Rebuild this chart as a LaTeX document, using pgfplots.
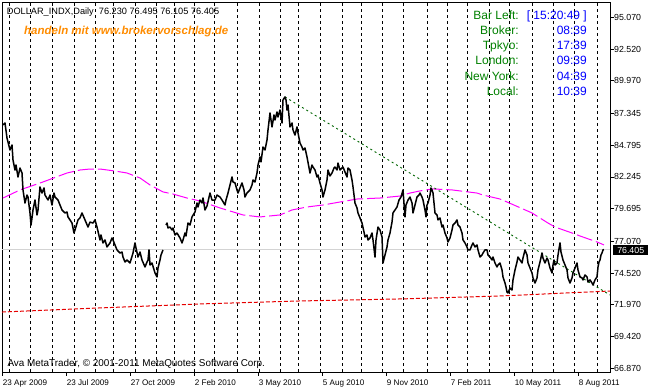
\documentclass[border=0pt]{standalone}
\usepackage{fontspec}
\setmainfont{Liberation Sans}
\usepackage{pgfplots}
\pgfplotsset{compat=1.18}
\definecolor{mtgreen}{RGB}{0,128,0}
\definecolor{mtorange}{RGB}{255,140,0}
\definecolor{mtmag}{RGB}{255,0,255}
\definecolor{mtred}{RGB}{230,0,0}
\definecolor{mttrend}{RGB}{0,100,0}
\definecolor{mtgray}{RGB}{211,211,211}
\definecolor{mtblue}{RGB}{0,0,255}
\begin{document}
\begin{tikzpicture}
\begin{axis}[
  at={(2pt,18pt)}, anchor=south west,
  scale only axis, width=608pt, height=370pt,
  xmin=2, xmax=610, ymin=66.573, ymax=96.299,
  axis line style={line width=0.9pt},
  tick align=outside, major tick length=4pt,
  tick style={black, line width=0.8pt},
  xtick pos=left, ytick pos=right,
  xticklabel pos=left, yticklabel pos=right,
  /pgf/number format/assume math mode=true,
  xtick={2.7,66.7,130.7,194.7,258.7,322.7,386.7,450.7,514.7,578.7},
  xticklabels={23 Apr 2009,23 Jul 2009,27 Oct 2009,2 Feb 2010,3 May 2010,5 Aug 2010,9 Nov 2010,7 Feb 2011,10 May 2011,8 Aug 2011},
  xticklabel style={anchor=north west, inner xsep=0pt, font=\fontsize{8.1}{9}\selectfont},
  ytick={95.07,92.52,89.97,87.345,84.795,82.245,79.695,77.07,74.52,71.97,69.42,66.87},
  yticklabels={95.070,92.520,89.970,87.345,84.795,82.245,79.695,77.070,74.520,71.970,69.420,66.870},
  yticklabel style={anchor=west, inner xsep=0pt, font=\fontsize{8.8}{9}\selectfont},
  extra x ticks={9,30,52,74,95,113,135,156,174,194,214,237,259,280,298,320,342,361,382,403,427,447,467,489,509,532,553,574,597},
  extra x tick labels={},
  extra x tick style={grid=major, major tick length=0pt},
  major grid style={black, line width=0.8pt, dash pattern=on 3pt off 3pt},
]
% current price line
\addplot[mtgray, line width=0.9pt] coordinates {(2,76.405)(610,76.405)};
% long MA (red dotted)
\addplot[mtred, line width=1pt, dash pattern=on 4pt off 2pt] coordinates {
(2,71.39)(100,71.72)(200,72.04)(300,72.28)(400,72.44)(500,72.68)(610,73.08)};
% MA (magenta)
\addplot[mtmag, line width=1pt, dash pattern=on 16pt off 4pt] coordinates {
(3,80.55)(20,81.20)(43,81.84)(67,82.56)(80,82.80)(90,82.88)(100,82.88)(115,82.72)(127,82.56)(140,82.16)(150,81.60)(163,81.04)(173,80.87)(187,80.55)(200,80.31)(220,79.75)(243,79.19)(260,79.03)(280,79.19)(292,79.59)(307,79.83)(323,79.99)(340,80.23)(357,80.47)(380,80.55)(400,80.71)(410,80.95)(420,81.12)(433,81.28)(452,81.20)(460,81.12)(477,80.95)(483,80.79)(500,80.47)(507,80.23)(523,79.67)(532,79.35)(548,78.54)(555,78.22)(572,77.74)(580,77.50)(597,77.02)(604,76.78)};
% trend line
\addplot[mttrend, line width=0.9pt, dash pattern=on 2pt off 3pt] coordinates {(285,88.67)(610,72.76)};
% price (close) series
\addplot[black, line width=1.5pt, line join=round] coordinates {
(3,86.42)(5,86.58)(7,85.37)(10,84.41)(12,84.81)(13,83.61)(15,82.80)(16,83.20)(18,82.24)(20,82.96)(22,82.56)(23,81.20)(25,80.15)(27,80.79)(28,80.63)(30,79.35)(31,78.38)(32,78.95)(33,79.59)(35,80.39)(37,79.19)(38,79.59)(40,81.44)(42,80.95)(44,81.36)(45,80.79)(48,80.39)(50,80.79)(52,79.99)(54,80.95)(55,80.63)(58,80.39)(60,79.99)(62,79.59)(65,79.35)(67,79.43)(68,79.03)(70,78.79)(72,78.54)(74,77.74)(75,77.98)(78,78.79)(80,78.95)(82,79.35)(85,78.79)(88,78.22)(90,78.62)(93,78.54)(95,78.79)(97,78.22)(100,77.18)(101,77.58)(103,76.94)(105,77.18)(107,76.62)(110,76.94)(112,77.34)(113,77.18)(115,76.78)(117,76.38)(120,76.13)(122,76.21)(123,75.81)(125,75.41)(127,75.57)(130,75.33)(133,76.13)(135,76.94)(136,76.54)(138,75.81)(140,76.21)(142,75.57)(145,75.01)(147,75.41)(148,75.57)(149,76.38)(150,75.17)(152,75.33)(155,74.53)(157,74.21)(158,74.93)(160,75.57)(161,75.97)(163,76.38)};
\addplot[black, line width=1.5pt, line join=round] coordinates {
(166,78.38)(167,78.54)(168,78.14)(170,78.22)(172,77.98)(173,78.14)(175,77.58)(177,77.74)(180,77.34)(182,76.94)(183,77.18)(185,77.74)(186,77.50)(188,78.54)(190,78.38)(192,79.03)(195,79.43)(197,80.15)(198,79.83)(200,80.39)(202,80.15)(203,80.55)(205,79.59)(207,79.91)(210,80.95)(212,80.39)(215,80.39)(217,80.79)(220,80.63)(222,80.39)(225,79.99)(226,80.39)(228,80.95)(230,81.60)(232,82.24)(233,81.84)(235,81.76)(237,81.20)(238,80.95)(240,81.36)(242,81.76)(244,81.20)(245,80.63)(247,80.95)(250,81.20)(252,81.60)(253,82.00)(255,81.84)(257,82.56)(258,83.20)(260,83.85)(261,83.45)(263,84.65)(265,84.41)(267,85.21)(268,86.02)(270,87.38)(271,86.82)(272,86.26)(274,87.22)(275,86.82)(277,87.46)(278,87.06)(280,87.62)(282,86.58)(283,88.43)(285,88.67)(286,88.43)(287,87.62)(288,88.02)(290,86.26)(292,86.58)(293,86.02)(295,85.61)(297,86.26)(298,85.78)(300,84.97)(302,84.65)(303,84.41)(305,84.57)(307,83.85)(310,82.56)(312,83.20)(313,83.04)(315,82.80)(317,82.24)(318,82.40)(320,81.76)(322,81.20)(323,80.63)(325,81.20)(327,82.00)(328,82.80)(330,82.32)(332,82.56)(334,82.96)(335,83.04)(337,82.80)(338,83.36)(340,82.80)(343,83.04)(345,82.64)(347,82.24)(348,82.96)(350,82.80)(352,82.00)(353,81.44)(355,80.15)(357,79.75)(358,79.35)(360,78.95)(362,78.54)(364,77.82)(365,77.42)(367,77.58)(368,77.18)(370,77.34)(372,77.74)(373,77.18)(375,75.81)(376,77.18)(378,78.22)(380,77.98)(382,77.42)(383,75.33)(385,75.97)(387,76.62)(388,77.18)(390,77.74)(392,78.62)(393,79.35)(395,79.59)(397,79.83)(399,80.39)(401,80.63)(403,81.20)(405,79.03)(406,79.99)(408,80.39)(410,80.63)(412,80.15)(413,79.35)(415,79.99)(417,80.63)(419,80.79)(420,80.95)(422,80.63)(423,80.39)(425,79.59)(426,79.03)(427,79.99)(428,80.15)(430,80.79)(431,81.36)(432,81.20)(433,80.95)(435,79.35)(437,79.19)(438,78.79)(440,78.95)(442,78.22)(443,78.38)(445,77.74)(447,77.34)(448,77.02)(450,77.34)(452,77.98)(453,78.38)(455,78.54)(457,78.79)(458,78.38)(460,78.22)(462,77.74)(463,77.18)(465,76.94)(467,76.62)(468,76.38)(470,76.38)(472,76.78)(473,76.94)(475,76.62)(477,76.78)(478,76.38)(480,75.81)(482,75.97)(483,76.13)(485,76.38)(487,76.38)(488,75.97)(490,75.81)(492,75.57)(493,75.81)(495,75.33)(497,75.01)(498,75.17)(500,75.33)(502,74.77)(503,74.21)(505,73.72)(506,73.40)(507,73.00)(508,72.92)(510,73.32)(512,73.16)(513,73.97)(515,74.77)(517,75.41)(518,75.81)(520,75.57)(522,75.33)(523,75.73)(525,76.38)(527,75.97)(528,75.33)(530,74.93)(532,74.53)(533,74.13)(535,73.72)(537,74.13)(538,74.77)(540,75.41)(542,76.13)(543,75.73)(545,75.33)(547,75.73)(548,75.57)(550,74.93)(552,74.53)(553,75.17)(554,75.57)(555,75.17)(557,75.33)(558,75.97)(560,76.94)(561,76.21)(563,75.57)(565,75.17)(567,74.77)(568,74.13)(570,73.72)(572,74.13)(573,74.53)(575,74.93)(577,75.33)(578,74.77)(580,74.21)(582,74.13)(583,73.97)(585,74.37)(587,74.21)(588,73.80)(590,73.97)(592,73.72)(593,73.56)(595,73.97)(597,74.21)(598,75.01)(599,75.41)(600,75.57)(601,75.97)(602,76.13)(603,76.38)(604,76.405)};
\end{axis}
% texts
\node[anchor=base west, inner sep=0pt, font=\fontsize{9.2}{10}\selectfont] at (6.7pt,375pt) {DOLLAR\_INDX,Daily\ \ 76.230 76.495 76.105 76.405};
\node[anchor=base west, inner sep=0pt, text=mtorange, font=\fontsize{11.5}{12}\selectfont\bfseries\itshape] at (24pt,355pt) {handeln mit www.brokervorschlag.de};
\node[anchor=base west, inner sep=0pt, font=\fontsize{9.9}{11}\selectfont] at (7.3pt,23.5pt) {Ava MetaTrader, © 2001-2011 MetaQuotes Software Corp.};
\begin{scope}[every node/.style={inner sep=0pt, font=\fontsize{12}{13}\selectfont}]
\node[anchor=base east, text=mtgreen] at (519pt,370.5pt) {Bar Left:};
\node[anchor=base east, text=mtgreen] at (519pt,355pt) {Broker:};
\node[anchor=base east, text=mtgreen] at (519pt,340pt) {Tpkyo:};
\node[anchor=base east, text=mtgreen] at (519pt,325pt) {London:};
\node[anchor=base east, text=mtgreen] at (519pt,309.5pt) {New York:};
\node[anchor=base east, text=mtgreen] at (519pt,294.3pt) {Local:};
\node[anchor=base east, text=mtblue] at (587pt,370.5pt) {[ 15:20:49 ]};
\node[anchor=base east, text=mtblue] at (587pt,355pt) {08:39};
\node[anchor=base east, text=mtblue] at (587pt,340pt) {17:39};
\node[anchor=base east, text=mtblue] at (587pt,325pt) {09:39};
\node[anchor=base east, text=mtblue] at (587pt,309.5pt) {04:39};
\node[anchor=base east, text=mtblue] at (587pt,294.3pt) {10:39};
\end{scope}
\node[fill=black, text=white, anchor=west, minimum width=35pt, minimum height=10.5pt, inner sep=0pt, font=\fontsize{8.8}{9}\selectfont] at (613pt,140pt) {76.405};
\pgfresetboundingbox
\path[use as bounding box] (0,0) rectangle (650pt,390pt);
\end{tikzpicture}
\end{document}
